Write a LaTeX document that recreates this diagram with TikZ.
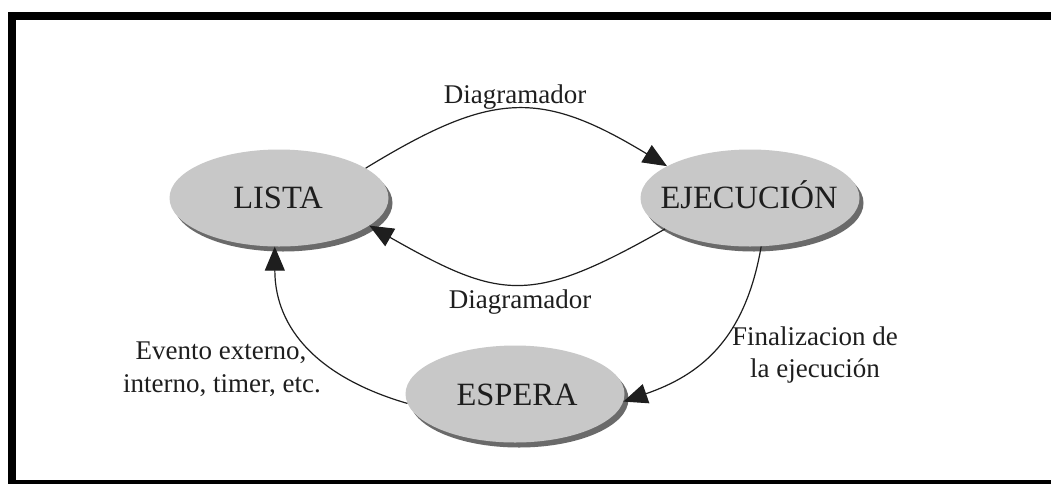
\documentclass[tikz,border=0pt]{standalone}
\usepackage{fontspec}
\setmainfont{Liberation Serif}
\usetikzlibrary{shapes.geometric,shadows,arrows.meta}
\definecolor{nodefill}{HTML}{C8C8C8}
\definecolor{shadowc}{HTML}{6A6A6A}
\definecolor{ink}{HTML}{1E1E1E}
\begin{document}
\begin{tikzpicture}[x=1pt,y=-1pt,
  state/.style={ellipse, fill=nodefill, minimum width=219pt, minimum height=97pt, inner sep=0pt,
    drop shadow={shadow xshift=4pt, shadow yshift=-5pt, fill=shadowc, opacity=1}},
  stext/.style={font=\fontsize{32.5}{36}\selectfont, anchor=base, inner sep=0pt, text=ink},
  lbl/.style={font=\fontsize{27}{32.5}\selectfont, anchor=base, inner sep=0pt, text=ink},
  arr/.style={-{Triangle[length=24pt,width=20pt]}, line width=1.2pt, draw=ink}]
\useasboundingbox (0,0) rectangle (1051,483);
\clip (0,0) rectangle (1051,483);
\fill[white] (0,0) rectangle (1051,483);
\draw[line width=8pt] (12,16) rectangle (1058,484);

\node[state] (lista) at (279,198) {};
\node[state] (ejec) at (750,198) {};
\node[state] (espera) at (515,394) {};
\node[stext] (listat) at (278,208) {LISTA};
\node[stext] (eject) at (749,208) {EJECUCIÓN};
\node[stext] (esperat) at (517,405) {ESPERA};

\node[lbl] (d1) at (515,103) {Diagramador};
\node[lbl] (d2) at (520,308) {Diagramador};
\node[lbl] (ev1) at (221,359) {Evento externo,};
\node[lbl] (ev2) at (222,392) {interno, timer, etc.};
\node[lbl] (fin1) at (815,345) {Finalizacion de};
\node[lbl] (fin2) at (815,377) {la ejecución};

\draw[arr] (lista.19) .. controls (492,91) and (540,89) .. (ejec.159);
\draw[arr] (ejec.200) .. controls (531,305) and (502,301) .. (lista.343);
\draw[arr] (espera.185) .. controls (320,378) and (275,330) .. (lista.265);
\draw[arr] (ejec.283) .. controls (745,340) and (700,375) .. (espera.356);
\end{tikzpicture}
\end{document}
